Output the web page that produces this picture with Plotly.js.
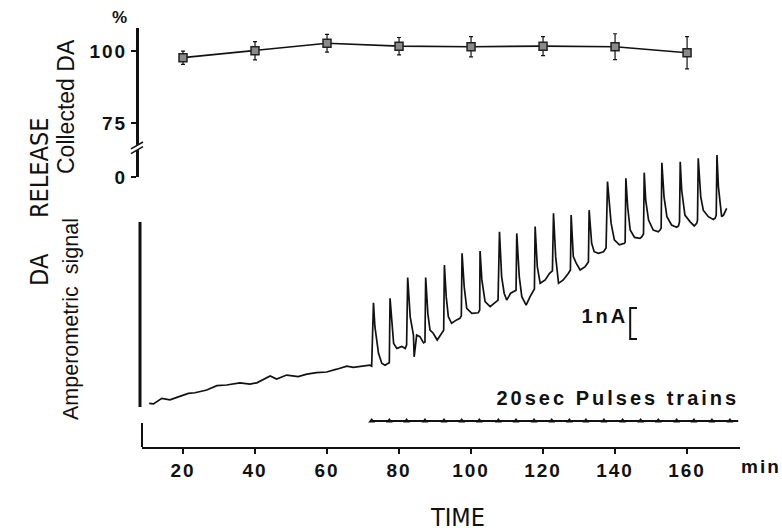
<!DOCTYPE html>
<html>
<head>
<meta charset="utf-8">
<script src="https://cdn.plot.ly/plotly-3.0.1.min.js"></script>
<style>
  html, body { margin: 0; padding: 0; background: #fff; }
  #chart { width: 782px; height: 531px; }
  .xtick text, .y2tick text { letter-spacing: 2px; }
  .annotation[data-index="5"] text { letter-spacing: 3px; }
  .annotation[data-index="6"] text { letter-spacing: 3px; }
  .annotation[data-index="7"] text { letter-spacing: 2px; }
</style>
</head>
<body>
<div id="chart"></div>
<script>
// ---- Top panel: collected DA (% of control) ----
const collectTime = [20, 40, 60, 80, 100, 120, 140, 160];
const collectedDA = [97.7, 100.1, 102.7, 101.7, 101.5, 101.7, 101.5, 99.4];
const collectedErr = [2.3, 3.2, 3.1, 3.0, 3.5, 3.3, 4.5, 5.6];

// ---- Bottom panel: amperometric signal (nA, arbitrary zero) ----
const ampTime = [10.6, 11.8, 14.1, 16.4, 18.3, 21.5, 23.3, 26.6, 29.4, 32.1, 35.8, 38.6, 40.5, 42.8, 44.2, 46.0, 48.8, 52.0, 54.4, 57.1, 59.9, 62.7, 65.5, 67.3, 69.2, 71.9, 72.4,
  72.9, 73.3, 74.3, 75.2, 76.1, 77.0, 77.3,
  77.5, 78.1, 78.5, 79.4, 80.8, 81.7, 82.1,
  82.4, 83.1, 84.0, 84.2, 84.9, 85.8, 86.8, 87.2,
  87.4, 88.0, 88.6, 89.5, 90.6, 91.9, 92.4,
  92.6, 93.1, 93.7, 94.6, 96.0, 96.9, 97.3,
  97.5, 98.1, 98.8, 100.2, 102.0, 102.4,
  102.5, 103.0, 103.9, 105.3, 106.7, 107.5,
  107.9, 108.5, 109.2, 109.9, 111.0, 111.9, 112.5,
  112.7, 113.4, 114.1, 115.3, 116.4, 117.1, 117.6,
  117.8, 118.4, 119.2, 120.6, 121.8, 122.6,
  122.9, 123.5, 124.3, 125.6, 127.0, 127.6,
  127.8, 128.4, 129.2, 130.3, 131.7, 132.6,
  132.8, 133.5, 134.2, 135.4, 136.8, 137.5,
  137.9, 138.9, 139.8, 141.2, 142.6, 142.8,
  143.0, 143.5, 144.2, 145.4, 146.9, 147.4, 147.9,
  148.1, 148.5, 149.3, 150.6, 152.0, 152.5, 152.8,
  153.0, 153.6, 154.4, 155.7, 157.1, 157.6, 157.9,
  158.1, 158.5, 159.4, 160.8, 162.0, 162.7, 162.9,
  163.1, 163.8, 164.5, 165.9, 167.3, 167.8, 168.1,
  168.3, 168.7, 169.2, 169.6, 170.1, 170.6, 171.0];
const ampSignal = [0.12, 0.10, 0.28, 0.23, 0.31, 0.44, 0.46, 0.55, 0.69, 0.71, 0.78, 0.74, 0.78, 0.93, 1.00, 0.90, 1.03, 0.98, 1.06, 1.11, 1.13, 1.22, 1.32, 1.28, 1.30, 1.35, 1.32,
  3.36, 2.59, 1.73, 1.41, 1.35, 1.41, 1.43,
  3.51, 2.59, 2.05, 1.89, 1.95, 1.89, 2.00,
  4.18, 2.91, 2.32, 1.62, 2.32, 2.27, 2.07, 2.10,
  4.18, 3.02, 2.48, 2.38, 2.16, 2.38, 2.48,
  4.58, 3.56, 2.91, 2.70, 2.81, 2.86, 2.94,
  4.96, 3.88, 3.18, 3.02, 3.04, 3.13,
  5.03, 4.10, 3.40, 3.24, 3.37, 3.45,
  5.65, 4.20, 3.67, 3.45, 3.67, 3.72, 3.77,
  5.60, 4.20, 3.56, 3.29, 3.56, 3.72, 3.81,
  5.82, 4.53, 3.99, 4.10, 4.31, 4.39,
  6.25, 4.85, 3.99, 4.10, 4.31, 4.42,
  6.19, 4.85, 4.64, 4.42, 4.53, 4.68,
  6.35, 5.28, 5.01, 4.96, 5.01, 5.13,
  7.27, 5.93, 5.39, 5.23, 5.28, 5.32,
  7.38, 6.46, 5.71, 5.47, 5.44, 5.49, 5.58,
  7.56, 6.68, 6.03, 5.71, 5.65, 5.71, 5.77,
  7.88, 6.78, 6.14, 5.87, 5.80, 5.84, 5.97,
  7.91, 7.00, 6.19, 5.98, 5.84, 5.93, 6.03,
  8.02, 6.78, 6.35, 6.14, 6.05, 6.09, 6.19,
  8.13, 7.11, 6.46, 6.14, 6.19, 6.35, 6.41];

// ---- Stimulation: 20 s pulse trains ----
const pulseTimes = [72.4, 77.3, 82.1, 87.2, 92.5, 97.4, 102.3, 107.6, 112.5, 117.5, 122.4, 127.3, 131.9, 136.9, 142.1, 147.1, 152.0, 157.1, 161.9, 166.9, 171.9];
const pulsePeriod = [72.4, 174.2];

// ---- Axis ticks ----
const timeTicks = [20, 40, 60, 80, 100, 120, 140, 160];
const daTickVals = [56.25, 75, 100];   // "0" sits below the axis break
const daTickText = ['0', '75', '100'];

// scale bar (1 nA) and axis extents
const scaleBarBase = 2.19, scaleBarHeight = 1;
const ampAxisTop = 5.97;

const F = 'Liberation Sans, Arial, Helvetica, sans-serif';
const FN = 'Liberation Sans Narrow, DejaVu Sans Condensed, Arial Narrow, Liberation Sans, sans-serif';

const traces = [
  {
    x: ampTime, y: ampSignal, type: 'scatter', mode: 'lines',
    xaxis: 'x', yaxis: 'y',
    line: { color: '#111', width: 1.7 }
  },
  {
    x: pulsePeriod, y: pulsePeriod.map(() => 0), type: 'scatter', mode: 'lines',
    xaxis: 'x', yaxis: 'y3', line: { color: '#111', width: 2 }
  },
  {
    x: pulseTimes, y: pulseTimes.map(() => 0), type: 'scatter', mode: 'markers',
    xaxis: 'x', yaxis: 'y3',
    marker: { symbol: 'triangle-up', size: 6, color: '#111' }
  },
  {
    x: collectTime, y: collectedDA, type: 'scatter', mode: 'lines+markers',
    xaxis: 'x', yaxis: 'y2', cliponaxis: false,
    line: { color: '#111', width: 1.6 },
    marker: { symbol: 'square', size: 8, color: '#8a8a8a', line: { color: '#222', width: 1.5 } },
    error_y: { type: 'data', array: collectedErr, visible: true, color: '#111', thickness: 1.2, width: 2 }
  }
];

const W = 603, H = 419; // plot-area size in px (for paper placement)
const layout = {
  width: 782, height: 531,
  margin: { l: 137, r: 42, t: 28, b: 84 },
  paper_bgcolor: '#fff', plot_bgcolor: 'rgba(0,0,0,0)',
  showlegend: false,
  font: { family: F, color: '#111' },
  xaxis: {
    domain: [5 / W, 1], range: [8.61, 174.7],
    tickvals: timeTicks, ticks: 'outside', ticklen: 5, tickwidth: 1.5, tickcolor: '#111',
    showline: true, linewidth: 2, linecolor: '#111',
    showgrid: false, zeroline: false,
    tickfont: { family: F, size: 19, weight: 'bold', color: '#111' }
  },
  yaxis: {
    domain: [0, (447 - 140) / H], range: [-1.29, 8.613],
    visible: false, showgrid: false, zeroline: false
  },
  yaxis3: {
    domain: [(447 - 431) / H, (447 - 411) / H], range: [-1, 1],
    visible: false, showgrid: false, zeroline: false
  },
  yaxis2: {
    domain: [(447 - 177) / H, 1], range: [56.25, 108],
    anchor: 'free', position: 0,
    tickvals: daTickVals, ticktext: daTickText,
    ticks: 'outside', ticklen: 5, tickwidth: 1.5, tickcolor: '#111',
    showline: true, linewidth: 2.5, linecolor: '#111',
    showgrid: false, zeroline: false,
    tickfont: { family: F, size: 19, weight: 'bold', color: '#111' }
  },
  shapes: [
    // amperometric ordinate (no ticks)
    { type: 'line', xref: 'paper', yref: 'y', x0: 3 / W, x1: 3 / W, y0: 0, y1: ampAxisTop, line: { color: '#111', width: 3 } },
    // corner of time axis
    { type: 'line', xref: 'paper', yref: 'paper', x0: 5 / W, x1: 5 / W, y0: 0, y1: 24 / H, line: { color: '#111', width: 2 } },
    // axis break on collected DA ordinate
    { type: 'rect', xref: 'paper', yref: 'y2', x0: -5 / W, x1: 5 / W, y0: 65.6, y1: 67.4, fillcolor: '#fff', line: { width: 0 } },
    { type: 'line', xref: 'paper', yref: 'y2', x0: -6 / W, x1: 6 / W, y0: 64.4, y1: 66.8, line: { color: '#111', width: 1.5 } },
    { type: 'line', xref: 'paper', yref: 'y2', x0: -6 / W, x1: 6 / W, y0: 66.0, y1: 68.4, line: { color: '#111', width: 1.5 } },
    // 1 nA scale bar
    { type: 'path', xref: 'x', yref: 'y',
      path: 'M 146.1,' + (scaleBarBase + scaleBarHeight) + ' L 144.2,' + (scaleBarBase + scaleBarHeight) +
            ' L 144.2,' + scaleBarBase + ' L 146.1,' + scaleBarBase,
      line: { color: '#111', width: 2 } }
  ],
  annotations: [
    { text: 'DA\u00a0\u00a0\u00a0\u00a0\u00a0RELEASE', xref: 'paper', yref: 'paper', x: (40 - 137) / W, y: (447 - 202) / H,
      textangle: -90, showarrow: false, xanchor: 'center', yanchor: 'middle', font: { family: FN, size: 25, color: '#111' } },
    { text: 'Collected DA', xref: 'paper', yref: 'paper', x: (66 - 137) / W, y: (447 - 107) / H,
      textangle: -90, showarrow: false, xanchor: 'center', yanchor: 'middle', font: { family: F, size: 23, color: '#111' } },
    { text: 'Amperometric\u00a0 signal', xref: 'paper', yref: 'paper', x: (71 - 137) / W, y: (447 - 319) / H,
      textangle: -90, showarrow: false, xanchor: 'center', yanchor: 'middle', font: { family: F, size: 21.5, color: '#111' } },
    { text: '%', xref: 'paper', yref: 'paper', x: (119 - 137) / W, y: (447 - 18) / H,
      showarrow: false, xanchor: 'center', yanchor: 'middle', font: { family: F, size: 17, weight: 'bold', color: '#111' } },
    { text: 'TIME', xref: 'paper', yref: 'paper', x: (457 - 137) / W, y: (447 - 517) / H,
      showarrow: false, xanchor: 'center', yanchor: 'middle', font: { family: FN, size: 25, color: '#111' } },
    { text: '20sec Pulses trains', xref: 'x', yref: 'paper', x: 140.8, y: (447 - 398) / H,
      showarrow: false, xanchor: 'center', yanchor: 'middle', font: { family: F, size: 20, weight: 'bold', color: '#111' } },
    { text: '1nA', xref: 'x', yref: 'y', x: 137.2, y: scaleBarBase + scaleBarHeight / 2 + 0.25,
      showarrow: false, xanchor: 'center', yanchor: 'middle', font: { family: F, size: 20, weight: 'bold', color: '#111' } },
    { text: 'min', xref: 'paper', yref: 'paper', x: (761 - 137) / W, y: (447 - 466) / H,
      showarrow: false, xanchor: 'center', yanchor: 'middle', font: { family: F, size: 19, weight: 'bold', color: '#111' } }
  ]
};

Plotly.newPlot('chart', traces, layout, { staticPlot: true, displayModeBar: false });
</script>
</body>
</html>
